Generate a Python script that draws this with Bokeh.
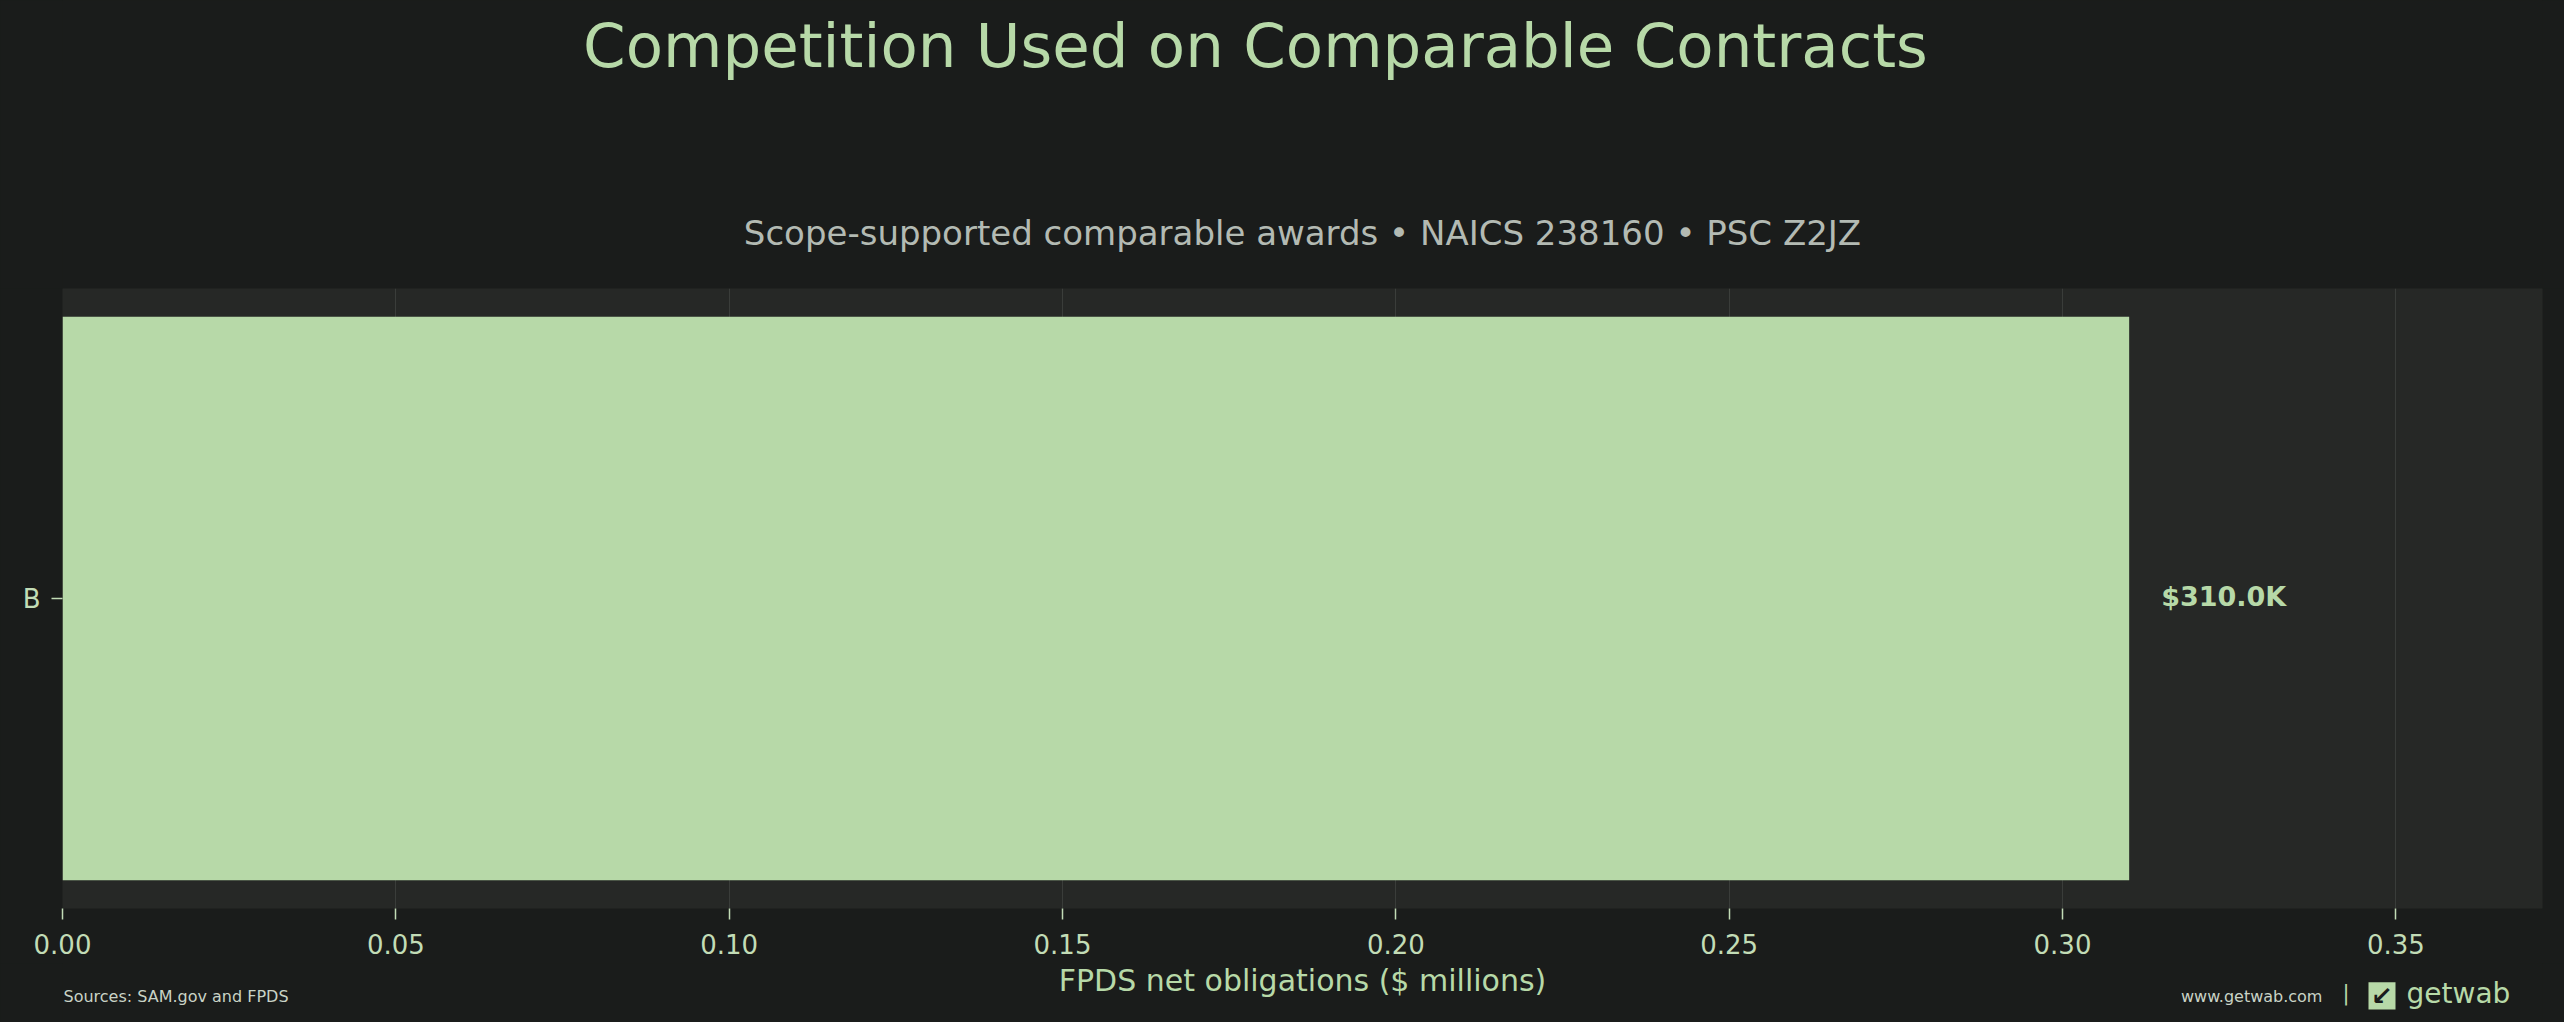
from bokeh.plotting import figure
from bokeh.layouts import column
from bokeh.models import (Range1d, FixedTicker, PrintfTickFormatter, Label,
                          ColumnDataSource, BoxAnnotation)
from bokeh.core.properties import value
from bokeh.embed import file_html
from bokeh.resources import INLINE

# ---------------- data ----------------
categories = ["B"]
obligations_musd = [0.310]          # FPDS net obligations, $ millions
x_ticks = [0.00, 0.05, 0.10, 0.15, 0.20, 0.25, 0.30, 0.35]
x_max = 0.372

title_text = "Competition Used on Comparable Contracts"
subtitle_text = "Scope-supported comparable awards \u2022 NAICS 238160 \u2022 PSC Z2JZ"
xlabel_text = "FPDS net obligations ($ millions)"
source_text = "Sources: SAM.gov and FPDS"
site_text = "www.getwab.com"
brand_text = "getwab"

# ---------------- styles ----------------
FONT = "DejaVu Sans"
BG = "#1a1c1b"
PANEL = "#262826"
GRID = "#3a3d3a"
GREEN = "#b7d9a8"
TICK = "#c2dcb6"
GREY = "#b3bab3"
SMALL = "#c9d3c6"

W = 2564
ML, MR = 62, 22
TOP_H = 288                 # title band (page y 0..288)
FRAME_H = 620
MB = 55
MAIN_H = FRAME_H + MB       # page y 288..963
BOT_Y0 = TOP_H + MAIN_H
BOT_H = 1022 - BOT_Y0       # footer band


def band(y0, h):
    """blank band whose data coordinates are page pixels"""
    f = figure(width=W, height=h, output_backend="svg", toolbar_location=None,
               x_axis_type=None, y_axis_type=None,
               min_border_left=ML, min_border_right=MR, min_border_top=0, min_border_bottom=0,
               x_range=Range1d(ML, W - MR), y_range=Range1d(y0 + h, y0),
               background_fill_color=BG, border_fill_color=BG, outline_line_color=None)
    f.grid.visible = False
    return f


def lab(f, text, x, y, size, color, align="left", baseline="alphabetic", style="normal"):
    # y is the wanted baseline in page pixels; compensate renderer's baseline drift
    if baseline == "alphabetic":
        y = y - 0.375 * size
    f.add_layout(Label(x=x, y=y, text=text,
                       text_font=FONT, text_font_size="%dpx" % size, text_color=color,
                       text_align=align, text_baseline=baseline, text_font_style=style))


CX = ML + (W - ML - MR) / 2

# ---------- title band ----------
top = band(0, TOP_H)
lab(top, title_text, 1255, 68, 61, GREEN, align="center")
lab(top, subtitle_text, CX, 245, 34, GREY, align="center")

# ---------- main chart ----------
idx = list(range(len(categories)))
labels = ["$%.1fK" % (v * 1000) for v in obligations_musd]
src = ColumnDataSource(dict(y=idx, v=obligations_musd, lab=labels))

p = figure(width=W, height=MAIN_H, x_range=Range1d(0, x_max), y_range=Range1d(-0.44, 0.44),
           output_backend="svg", toolbar_location=None,
           min_border_left=ML, min_border_right=MR, min_border_top=0, min_border_bottom=MB,
           background_fill_color=PANEL, border_fill_color=BG, outline_line_color=None)

p.hbar(y="y", left=0, right="v", height=0.8, source=src, fill_color=GREEN, line_color=None)
p.text(x="v", y="y", text="lab", source=src, x_offset=32, y_offset=-2,
       text_baseline="middle", text_align="left",
       text_font=value(FONT), text_font_style="bold", text_font_size="27px", text_color=GREEN)

xa = p.xaxis[0]
xa.ticker = FixedTicker(ticks=x_ticks)
xa.formatter = PrintfTickFormatter(format="%.2f")
xa.axis_line_color = None
xa.major_tick_line_color = TICK
xa.major_tick_line_width = 1.5
xa.major_tick_out = 11
xa.major_tick_in = 0
xa.minor_tick_line_color = None
xa.major_label_text_font = FONT
xa.major_label_text_font_size = "26px"
xa.major_label_text_color = TICK
xa.major_label_standoff = 14

ya = p.yaxis[0]
ya.ticker = FixedTicker(ticks=idx)
ya.major_label_overrides = {i: c for i, c in zip(idx, categories)}
ya.axis_line_color = None
ya.major_tick_line_color = TICK
ya.major_tick_line_width = 1.5
ya.major_tick_out = 11
ya.major_tick_in = 0
ya.minor_tick_line_color = None
ya.major_label_text_font = FONT
ya.major_label_text_font_size = "26px"
ya.major_label_text_color = TICK
ya.major_label_standoff = 11

p.xgrid.grid_line_color = GRID
p.xgrid.grid_line_width = 1
p.xgrid.ticker = FixedTicker(ticks=x_ticks)
p.ygrid.grid_line_color = None

# ---------- footer band ----------
bot = band(BOT_Y0, BOT_H)
lab(bot, xlabel_text, CX, 991.7, 30, GREEN, align="center")
lab(bot, source_text, ML + 1, 1001.7, 16, SMALL)
lab(bot, site_text, 2180.5, 1001.7, 16, SMALL)
lab(bot, "|", 2345.5, 1000.7, 21, GREEN, align="center")
bot.add_layout(BoxAnnotation(left=2368, right=2395, top=981.7, bottom=1009,
                             fill_color=GREEN, fill_alpha=1.0, line_color=None))
lab(bot, "\u2199", 2381.5, 995.3, 26, BG, align="center", baseline="middle", style="bold")
lab(bot, brand_text, 2406, 1003, 28, GREEN)

layout = column(top, p, bot, spacing=0)

html = file_html(layout, INLINE)
html = html.replace("<head>", "<head><style>html,body{background:%s;}</style>" % BG, 1)
open("out.html", "w").write(html)
